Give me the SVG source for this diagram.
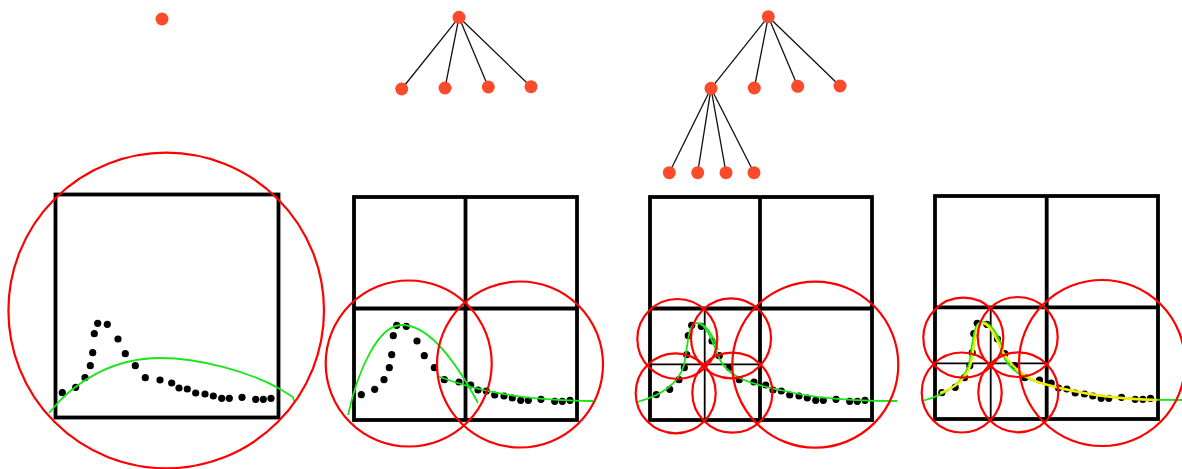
<svg xmlns="http://www.w3.org/2000/svg" width="1182" height="469" viewBox="0 0 1182 469">
<style>
.node{fill:#fc4b2c}
.edge{stroke:#111;stroke-width:1.3;fill:none}
.box{fill:none;stroke:#000;stroke-width:3.8}
.thin{fill:none;stroke:#000;stroke-width:1.8}
.rc{fill:none;stroke:#f00;stroke-width:2.2}
.fit{fill:none;stroke:#19e619;stroke-width:1.8}
.fit2{fill:none;stroke:#f4ec00;stroke-width:2.4}
.pt{fill:#000}
.pt circle{r:3.6px}
</style>
<defs>
<g id="data" class="pt">
<circle cx="62.3" cy="392.7" r="3.6"/><circle cx="75.7" cy="387.3" r="3.6"/><circle cx="85" cy="377.7" r="3.6"/>
<circle cx="90.3" cy="365.7" r="3.6"/><circle cx="92.7" cy="352.7" r="3.6"/><circle cx="94.3" cy="333.7" r="3.6"/>
<circle cx="97.7" cy="323.3" r="3.6"/><circle cx="107.3" cy="324.3" r="3.6"/><circle cx="118" cy="339" r="3.6"/>
<circle cx="125.3" cy="353.7" r="3.6"/><circle cx="135.3" cy="365.7" r="3.6"/><circle cx="145.3" cy="377.7" r="3.6"/>
<circle cx="160" cy="380" r="3.6"/><circle cx="171.7" cy="383" r="3.6"/><circle cx="179" cy="388" r="3.6"/>
<circle cx="187.3" cy="389" r="3.6"/><circle cx="195.7" cy="393" r="3.6"/><circle cx="205" cy="394" r="3.6"/>
<circle cx="213.3" cy="396" r="3.6"/><circle cx="221.7" cy="398.3" r="3.6"/><circle cx="229.3" cy="398.3" r="3.6"/>
<circle cx="242" cy="397.3" r="3.6"/><circle cx="255.7" cy="399.3" r="3.6"/><circle cx="263.3" cy="399.3" r="3.6"/>
<circle cx="271" cy="398.3" r="3.6"/>
</g>
<g id="fit3">
<path class="fit" d="M637,402 C660,396 678,385 684,365 C688,345 688,323 697,323 C706,323 712,340 720,360 C728,375 745,383 780,390 C800,395 830,401 897,401"/>
<path class="fit" d="M700,323 C708,327 714,338 718,350"/>
</g>
</defs>

<g id="connectors">
<line class="edge" x1="459" y1="17.3" x2="401.7" y2="89"/>
<line class="edge" x1="459" y1="17.3" x2="445" y2="88"/>
<line class="edge" x1="459" y1="17.3" x2="488.3" y2="87"/>
<line class="edge" x1="459" y1="17.3" x2="531" y2="86.7"/>
<line class="edge" x1="768.3" y1="16.7" x2="711" y2="88.3"/>
<line class="edge" x1="768.3" y1="16.7" x2="754.3" y2="88"/>
<line class="edge" x1="768.3" y1="16.7" x2="797.7" y2="86.3"/>
<line class="edge" x1="768.3" y1="16.7" x2="840" y2="86"/>
<line class="edge" x1="711" y1="88.3" x2="669.3" y2="172.7"/>
<line class="edge" x1="711" y1="88.3" x2="697.7" y2="172.7"/>
<line class="edge" x1="711" y1="88.3" x2="726" y2="172.7"/>
<line class="edge" x1="711" y1="88.3" x2="754" y2="172.7"/>
</g>

<g id="t1-root"><circle class="node" cx="162" cy="19" r="6.5"/></g>
<g id="t2-root"><circle class="node" cx="459" cy="17.3" r="6.5"/></g>
<g id="t2-c1"><circle class="node" cx="401.7" cy="89" r="6.5"/></g>
<g id="t2-c2"><circle class="node" cx="445" cy="88" r="6.5"/></g>
<g id="t2-c3"><circle class="node" cx="488.3" cy="87" r="6.5"/></g>
<g id="t2-c4"><circle class="node" cx="531" cy="86.7" r="6.5"/></g>
<g id="t3-root"><circle class="node" cx="768.3" cy="16.7" r="6.5"/></g>
<g id="t3-c1"><circle class="node" cx="711" cy="88.3" r="6.5"/></g>
<g id="t3-c2"><circle class="node" cx="754.3" cy="88" r="6.5"/></g>
<g id="t3-c3"><circle class="node" cx="797.7" cy="86.3" r="6.5"/></g>
<g id="t3-c4"><circle class="node" cx="840" cy="86" r="6.5"/></g>
<g id="t3-g1"><circle class="node" cx="669.3" cy="172.7" r="6.5"/></g>
<g id="t3-g2"><circle class="node" cx="697.7" cy="172.7" r="6.5"/></g>
<g id="t3-g3"><circle class="node" cx="726" cy="172.7" r="6.5"/></g>
<g id="t3-g4"><circle class="node" cx="754" cy="172.7" r="6.5"/></g>

<g id="panel1">
<rect class="box" x="55.5" y="194.5" width="223" height="223"/>
<use href="#data"/>
<path class="fit" d="M49,413 C75,380 115,358 160,358 C200,358 250,372 280,389 L293,397 L294,401"/>
<circle class="rc" cx="166.2" cy="310.5" r="157.8"/>
</g>

<g id="panel2">
<rect class="box" x="354" y="197" width="223" height="223"/>
<line class="box" x1="465.5" y1="197" x2="465.5" y2="420"/>
<line class="box" x1="354" y1="308.5" x2="577" y2="308.5"/>
<use href="#data" transform="translate(299,2)"/>
<path class="fit" d="M348,415 C358,370 378,325 402,325 C428,325 455,360 478,403"/>
<path class="fit" d="M437,376 C480,392 520,400 593,401"/>
<circle class="rc" cx="408.7" cy="363.5" r="83"/>
<circle class="rc" cx="520" cy="364.5" r="83"/>
</g>

<g id="panel3">
<rect class="box" x="650" y="197" width="222" height="223"/>
<line class="box" x1="760" y1="197" x2="760" y2="420"/>
<line class="box" x1="650" y1="308.5" x2="872" y2="308.5"/>
<line class="thin" x1="704.7" y1="308.5" x2="704.7" y2="420"/>
<line class="thin" x1="650" y1="364.3" x2="760" y2="364.3"/>
<use href="#data" transform="translate(594,2)"/>
<use href="#fit3"/>
<circle class="rc" cx="677.3" cy="339" r="40"/>
<circle class="rc" cx="731" cy="338.3" r="40"/>
<circle class="rc" cx="675.7" cy="393.3" r="40"/>
<circle class="rc" cx="732.3" cy="392.7" r="40"/>
<circle class="rc" cx="815.3" cy="364.7" r="83"/>
</g>

<g id="panel4">
<rect class="box" x="935" y="196" width="223" height="223"/>
<line class="box" x1="1046.7" y1="196" x2="1046.7" y2="419"/>
<line class="box" x1="935" y1="307.3" x2="1158" y2="307.3"/>
<line class="thin" x1="990.7" y1="307.3" x2="990.7" y2="419"/>
<line class="thin" x1="935" y1="363.3" x2="1046.7" y2="363.3"/>
<use href="#data" transform="translate(879.5,0)"/>
<use href="#fit3" transform="translate(285,-1)"/>
<path class="fit2" d="M940,393 C955,388 967,378 971,363 C975,345 975,323 982,323 C990,323 996,338 1003,352 C1010,365 1025,380 1048,385 C1070,391 1110,399 1157,400"/>
<circle class="rc" cx="963.3" cy="337.7" r="40"/>
<circle class="rc" cx="1017.7" cy="337" r="40"/>
<circle class="rc" cx="961.7" cy="392.5" r="40"/>
<circle class="rc" cx="1018.3" cy="392.3" r="40"/>
<circle class="rc" cx="1102" cy="363" r="83"/>
</g>
</svg>
